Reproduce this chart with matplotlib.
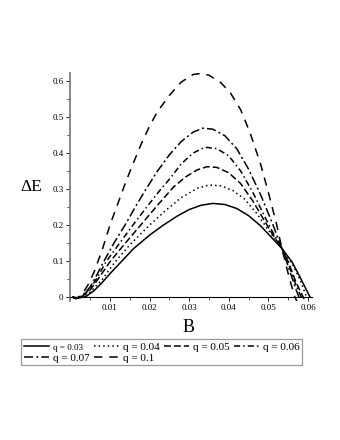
import matplotlib
matplotlib.use("Agg")
import matplotlib.pyplot as plt
from matplotlib.ticker import MultipleLocator, FuncFormatter

# Values (B, Delta E) for each q
B_q003 = [0.0008, 0.002, 0.004, 0.006, 0.008, 0.010, 0.013, 0.016, 0.020, 0.0235, 0.027, 0.030,
          0.033, 0.036, 0.039, 0.042, 0.045, 0.048, 0.051, 0.0534, 0.056, 0.058, 0.0605]
E_q003 = [0.0, -0.003, 0.002, 0.018, 0.040, 0.065, 0.100, 0.135, 0.172, 0.200, 0.225, 0.243,
          0.255, 0.260, 0.257, 0.246, 0.226, 0.198, 0.163, 0.135, 0.097, 0.055, 0.0]

B_q004 = [0.0005, 0.0015, 0.003, 0.005, 0.008, 0.0113, 0.015, 0.020, 0.024, 0.028, 0.032, 0.035,
          0.038, 0.041, 0.044, 0.047, 0.050, 0.0534, 0.056, 0.058, 0.0597]
E_q004 = [0.0, -0.003, 0.0, 0.014, 0.048, 0.098, 0.145, 0.200, 0.240, 0.276, 0.302, 0.311,
          0.309, 0.296, 0.272, 0.233, 0.186, 0.135, 0.092, 0.048, -0.002]

B_q005 = [0.0005, 0.0015, 0.003, 0.005, 0.007, 0.010, 0.0135, 0.018, 0.022, 0.026, 0.029, 0.032,
          0.0345, 0.037, 0.040, 0.043, 0.046, 0.049, 0.051, 0.0534, 0.055, 0.057, 0.059]
E_q005 = [0.0, -0.004, 0.002, 0.020, 0.050, 0.098, 0.145, 0.203, 0.255, 0.305, 0.333, 0.353,
          0.362, 0.360, 0.345, 0.315, 0.268, 0.212, 0.175, 0.135, 0.098, 0.040, -0.005]

B_q006 = [0.0005, 0.0015, 0.003, 0.005, 0.007, 0.009, 0.012, 0.0158, 0.019, 0.0225, 0.025, 0.028,
          0.031, 0.034, 0.037, 0.040, 0.043, 0.046, 0.049, 0.051, 0.0534, 0.055, 0.057, 0.0585]
E_q006 = [0.0, -0.004, 0.003, 0.024, 0.058, 0.098, 0.143, 0.200, 0.246, 0.295, 0.327, 0.370,
          0.400, 0.416, 0.412, 0.392, 0.350, 0.292, 0.225, 0.182, 0.135, 0.094, 0.032, -0.005]

B_q007 = [0.0005, 0.0015, 0.003, 0.005, 0.0065, 0.0085, 0.011, 0.0138, 0.0165, 0.019, 0.022, 0.025,
          0.028, 0.031, 0.0335, 0.036, 0.039, 0.042, 0.045, 0.048, 0.051, 0.0534, 0.055, 0.057, 0.058]
E_q007 = [0.0, -0.004, 0.004, 0.028, 0.058, 0.100, 0.150, 0.200, 0.252, 0.298, 0.350, 0.395,
          0.432, 0.458, 0.469, 0.466, 0.448, 0.412, 0.355, 0.285, 0.205, 0.135, 0.085, 0.020, -0.008]

B_q01 = [0.0005, 0.0015, 0.003, 0.0045, 0.006, 0.008, 0.010, 0.012, 0.014, 0.016, 0.018, 0.020,
         0.022, 0.025, 0.028, 0.031, 0.033, 0.035, 0.038, 0.0404, 0.043, 0.0454, 0.048, 0.050,
         0.052, 0.0534, 0.055, 0.0565, 0.0572]
E_q01 = [0.0, -0.004, 0.008, 0.035, 0.070, 0.130, 0.200, 0.260, 0.320, 0.375, 0.428, 0.475,
         0.515, 0.560, 0.597, 0.618, 0.621, 0.616, 0.595, 0.567, 0.520, 0.455, 0.370, 0.290,
         0.205, 0.135, 0.065, 0.005, -0.012]

labels = ["q = 0.03", "q = 0.04", "q = 0.05", "q = 0.06", "q = 0.07", "q = 0.1"]
x_ticks = [0.01, 0.02, 0.03, 0.04, 0.05, 0.06]

serif = "Liberation Serif"

fig = plt.figure(figsize=(3.4, 4.4), dpi=100)
ax = fig.add_axes([0.207, 0.315, 0.7106, 0.519])

series = [(B_q003, E_q003, "-"),
          (B_q004, E_q004, (0, (1, 2))),
          (B_q005, E_q005, (0, (4.5, 2))),
          (B_q006, E_q006, (0, (4, 2, 1, 2))),
          (B_q007, E_q007, (0, (6, 2, 1.3, 2))),
          (B_q01, E_q01, (0, (5.5, 4.5)))]

handles = []
for (b, e, ls), lab in zip(series, labels):
    h, = ax.plot(b, e, color="black", lw=1.1, linestyle=ls, label=lab)
    handles.append(h)

ax.set_xlim(0, 0.061)
ax.set_ylim(-0.012, 0.622)

# maple style axes: x axis drawn through zero
ax.spines["top"].set_visible(False)
ax.spines["right"].set_visible(False)
ax.spines["bottom"].set_position(("data", 0))
ax.spines["bottom"].set_linewidth(0.8)
ax.spines["left"].set_color("#808080")
ax.spines["left"].set_linewidth(1.3)

ax.set_xticks(x_ticks)
ax.xaxis.set_minor_locator(MultipleLocator(0.005))
ax.yaxis.set_major_locator(MultipleLocator(0.1))
ax.yaxis.set_minor_locator(MultipleLocator(0.05))
ax.yaxis.set_major_formatter(FuncFormatter(lambda v, p: "0" if abs(v) < 1e-9 else f"{v:.1f}"))
ax.xaxis.set_major_formatter(FuncFormatter(lambda v, p: f"{v:.2f}"))
ax.tick_params(which="major", length=3, width=0.6, labelsize=6.5, pad=2)
ax.tick_params(which="minor", length=2, width=0.5)
for t in ax.get_xticklabels() + ax.get_yticklabels():
    t.set_fontfamily(serif)

ax.text(-0.16, 0.50, "ΔE", transform=ax.transAxes, ha="center", va="center",
        fontsize=12.5, family=serif)
ax.text(0.49, -0.115, "B", transform=ax.transAxes, ha="center", va="center",
        fontsize=13, family=serif)

# reorder so rows read 0.03..0.06 then 0.07, 0.1
order = [0, 4, 1, 5, 2, 3]
leg = fig.legend([handles[i] for i in order], [labels[i] for i in order],
                 loc="upper left", bbox_to_anchor=(0.063, 0.229),
                 ncol=4, frameon=True, fancybox=False,
                 edgecolor="#808080", handlelength=2.2, handletextpad=0.35,
                 columnspacing=0.45, borderpad=0.25, borderaxespad=0.0, labelspacing=0.1,
                 prop={"family": serif, "size": 8})
leg.get_frame().set_linewidth(0.9)
# the first entry is printed smaller in the original
leg.get_texts()[0].set_fontsize(6.5)

fig.savefig("out.png", dpi=100)
